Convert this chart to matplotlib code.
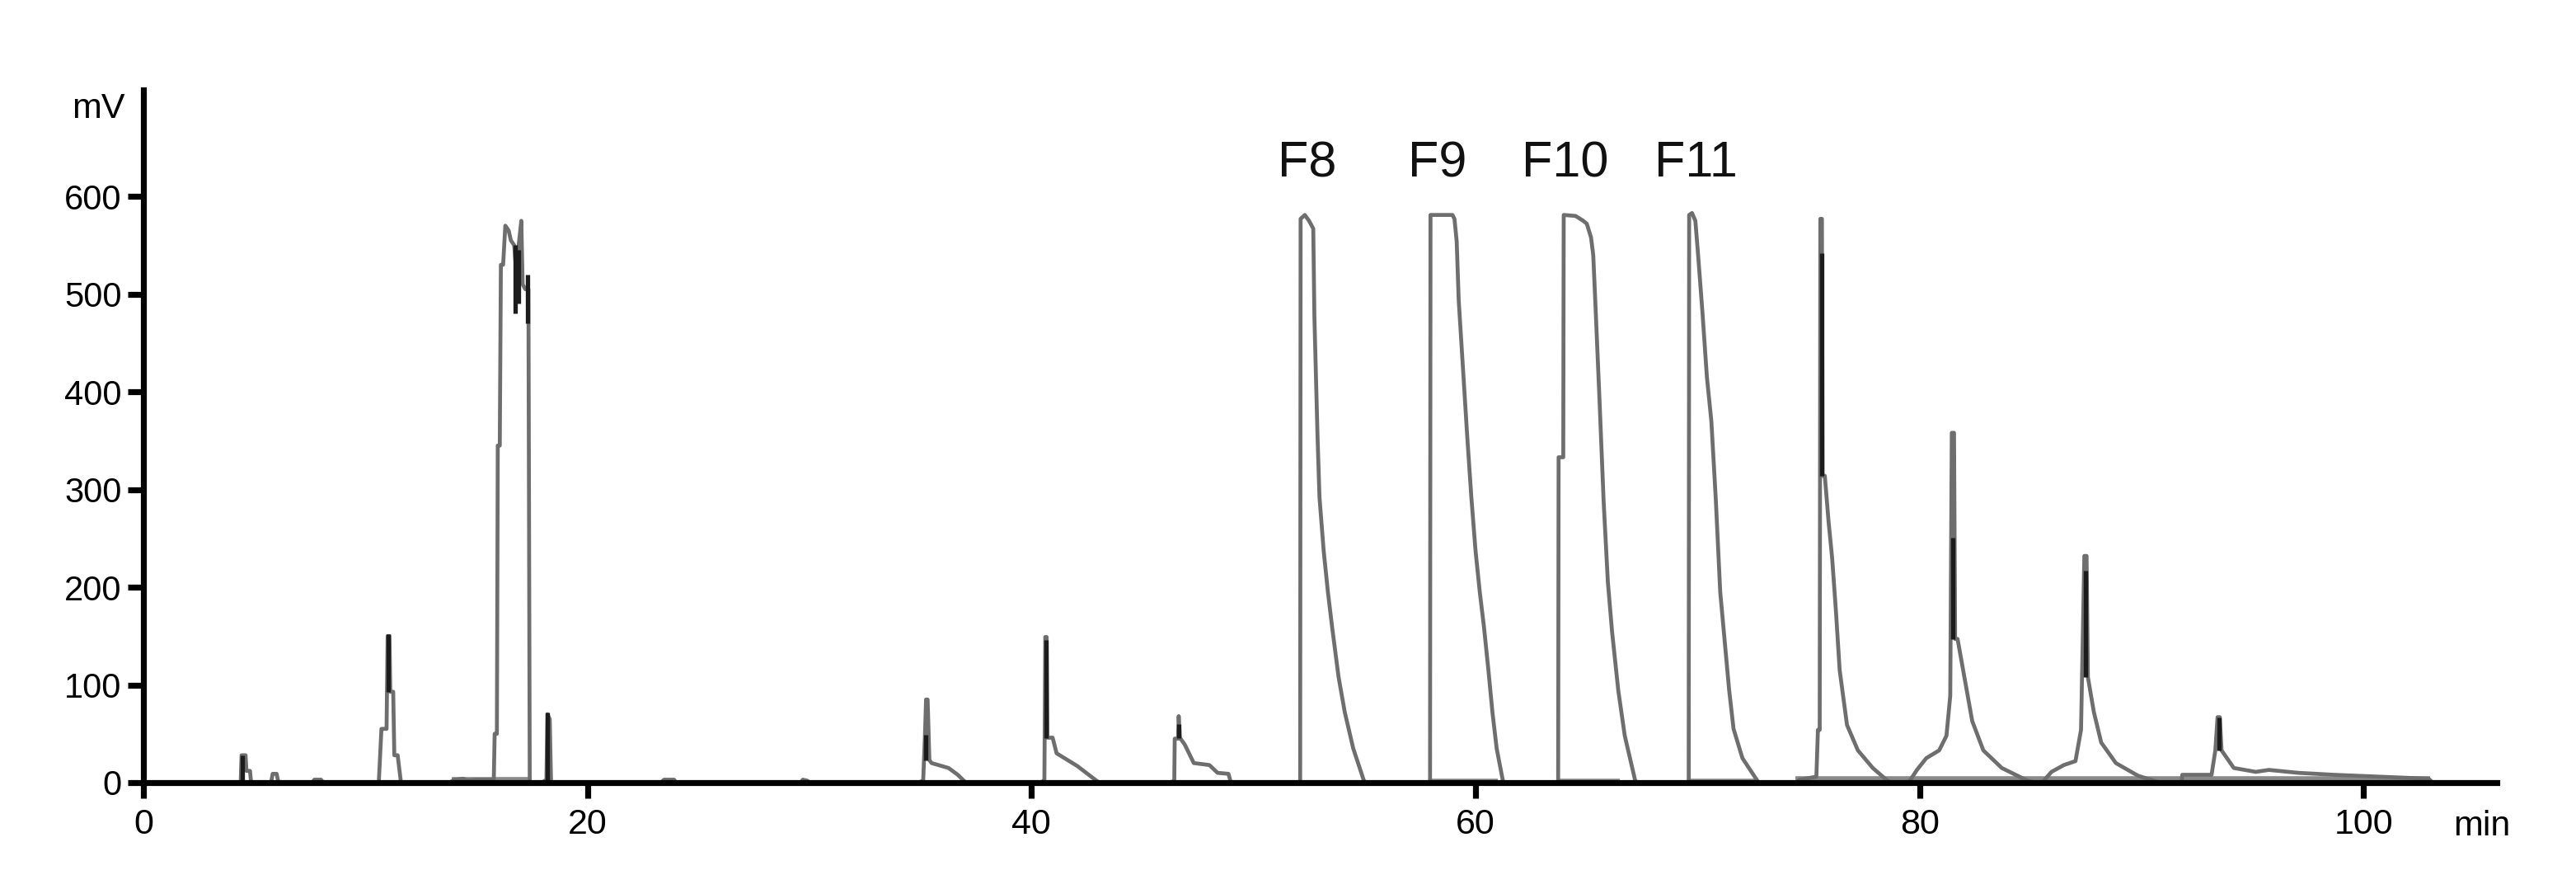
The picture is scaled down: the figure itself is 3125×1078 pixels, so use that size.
import matplotlib
matplotlib.use("Agg")
import matplotlib.pyplot as plt
import numpy as np

plt.rcParams['font.family'] = ['Liberation Sans', 'DejaVu Sans']

# 크로마토그램 데이터 (min, mV) - 구간별로 나눔
t_early = [0, 4.38, 4.42, 4.6, 4.64, 4.8, 4.85,
           5.75, 5.82, 6.0, 6.08,
           7.6, 7.7, 8.0, 8.1,
           10.6, 10.72, 10.95, 11.0, 11.08, 11.12, 11.25, 11.3, 11.45, 11.6,
           13.8, 14.0, 14.4, 14.6, 15.0, 15.78,
           15.82, 15.92, 15.96, 16.05, 16.1, 16.2, 16.3, 16.45, 16.55, 16.7,
           16.8, 16.9, 17.02, 17.08, 17.2, 17.34, 17.4,
           17.95, 18.15, 18.2, 18.3, 18.36,
           23.3, 23.45, 23.9, 24.0,
           29.6, 29.7, 29.9, 30.0]
mv_early = [0, 0, 28, 28, 12, 12, 0,
            0, 9, 9, 0,
            0, 3, 3, 0,
            0, 55, 55, 150, 150, 93, 93, 28, 28, 0,
            0, 3, 4, 2, 3, 3,
            50, 50, 345, 345, 530, 530, 570, 565, 555, 550,
            520, 550, 575, 510, 505, 505, 0,
            0, 3, 70, 65, 0,
            0, 3, 3, 0,
            0, 3, 2, 0]

t_mid = [34.9, 35.12, 35.2, 35.25, 35.32, 35.4, 35.5, 36.26, 36.68, 37.04,
         40.45, 40.58, 40.62, 40.68, 40.72, 40.95, 41.13, 42.06, 43.04,
         46.25, 46.43, 46.45, 46.6, 46.63, 46.68, 46.9, 47.31, 48.01, 48.38, 48.87, 48.98]
mv_mid = [0, 2, 48, 85, 85, 23, 20, 15, 8, 0,
          0, 3, 149, 149, 46, 46, 30, 17, 0,
          0, 2, 45, 45, 68, 46, 39, 20, 18, 10, 9, 0]

t_frac = [51.9, 52.1, 52.12, 52.31, 52.5, 52.69, 52.74, 52.88, 52.97, 53.16, 53.35,
          53.54, 53.83, 54.11, 54.49, 54.97, 55.05,
          57.95, 57.97, 58.96, 59.05, 59.15, 59.24, 59.43, 59.62, 59.81, 60.0,
          60.19, 60.38, 60.57, 60.76, 60.95, 61.23, 61.3,
          63.72, 63.74, 63.95, 63.97, 64.5, 64.85, 65.01, 65.2, 65.3, 65.39,
          65.58, 65.77, 65.96, 66.15, 66.43, 66.72, 67.19, 67.3,
          69.6, 69.62, 69.75, 69.9, 70.02, 70.22, 70.42, 70.62, 70.82, 71.02,
          71.22, 71.42, 71.62, 72.02, 72.72, 72.8]
mv_frac = [0, 0, 577, 581, 575, 567, 478, 356, 292, 237, 195,
           159, 108, 72, 35, 2, 0,
           0, 581, 581, 577, 554, 494, 425, 356, 292, 237,
           195, 159, 117, 72, 35, 2, 0,
           0, 333, 333, 581, 580, 575, 572, 558, 540, 494,
           393, 287, 205, 154, 94, 48, 2, 0,
           0, 581, 583, 575, 541, 481, 415, 370, 290, 195,
           145, 95, 55, 25, 1, 0]

t_late = [74.5, 74.57, 75.35, 75.42, 75.5, 75.53, 75.6, 75.63, 75.73, 75.9, 76.06,
          76.23, 76.4, 76.73, 77.22, 77.89, 78.55, 78.7,
          79.5, 79.88, 80.3, 80.88, 81.21, 81.38, 81.45, 81.55, 81.6, 81.71, 81.96,
          82.37, 82.87, 83.7, 84.86, 85.2,
          85.52, 85.94, 86.5, 87.02, 87.27, 87.42, 87.52, 87.58, 87.85, 88.18,
          88.84, 89.84, 90.83,
          91.8, 91.83, 93.15, 93.32, 93.42, 93.52, 93.6, 94.15, 95.14, 95.73,
          97.06, 98.66, 100.8, 102.93, 103.1]
mv_late = [0, 3, 6, 54, 54, 577, 577, 314, 314, 267, 230,
           176, 115, 59, 33, 15, 2, 0,
           0, 13, 25, 33, 48, 89, 358, 358, 147, 147, 115,
           63, 33, 15, 2, 0,
           0, 11, 18, 22, 54, 232, 232, 108, 72, 41,
           20, 7, 0,
           0, 8, 8, 33, 67, 67, 33, 15, 11, 13,
           10, 8, 6, 4, 0]

# 두 번째 신호(검은색) 스파이크 구간
spike_t = [4.45, 11.04, 16.75, 16.9, 17.3, 18.2, 35.22, 40.64, 46.62, 75.58, 81.5, 87.47, 93.47]
spike_lo = [0, 93, 480, 490, 470, 0, 23, 46, 46, 314, 147, 108, 33]
spike_hi = [28, 152, 550, 545, 520, 72, 49, 146, 60, 542, 251, 217, 67]

# 기준선 (연한 회색)
base_start = [13.9, 57.97, 63.74, 69.62, 74.4]
base_end = [17.4, 61.0, 66.5, 72.6, 103.0]
base_level = [3, 2, 2, 2, 4]

fraction_names = ['F8', 'F9', 'F10', 'F11']
fraction_start = [52.12, 57.97, 63.74, 69.62]

x_ticks = [0, 20, 40, 60, 80, 100]
y_ticks = [0, 100, 200, 300, 400, 500, 600]

time_all = np.concatenate([t_early, t_mid, t_frac, t_late])
mv_all = np.concatenate([mv_early, mv_mid, mv_frac, mv_late])

W, H = 3125, 1078
fig = plt.figure(figsize=(W / 100, H / 100), dpi=100)
ax = fig.add_axes([174 / W, 1 - 949 / H, (3029 - 174) / W, (949 - 109) / H])

ax.hlines(base_level, base_start, base_end, color='#8a8a8a', lw=4, zorder=1.5)
ax.plot(time_all, mv_all, color='#6e6e6e', lw=3.4, zorder=2)
ax.vlines(spike_t, spike_lo, spike_hi, color='#1c1c1c', lw=3.8, zorder=2.2)

for name, t0 in zip(fraction_names, fraction_start):
    ax.text(t0 + 0.3, 620, name, ha='center', va='baseline', fontsize=44, color='#111111')

ax.set_xlim(0, 106)
ax.set_ylim(0, 709)
ax.set_xticks(x_ticks)
ax.set_yticks(y_ticks)
ax.set_xticklabels([str(v) for v in x_ticks], fontsize=31)
ax.set_yticklabels([str(v) for v in y_ticks], fontsize=30)

for side in ['top', 'right']:
    ax.spines[side].set_visible(False)
for side in ['left', 'bottom']:
    ax.spines[side].set_linewidth(5.2)
    ax.spines[side].set_color('black')

ax.tick_params(axis='x', direction='out', length=14, width=5.2, pad=8)
ax.tick_params(axis='y', direction='out', length=14, width=5.2, pad=5)

fig.text(152 / W, 1 - 143 / H, 'mV', ha='right', va='baseline', fontsize=31)
fig.text(2976 / W, 1 - 1013 / H, 'min', ha='left', va='baseline', fontsize=31)

fig.savefig('out.png', dpi=100, facecolor='white')
